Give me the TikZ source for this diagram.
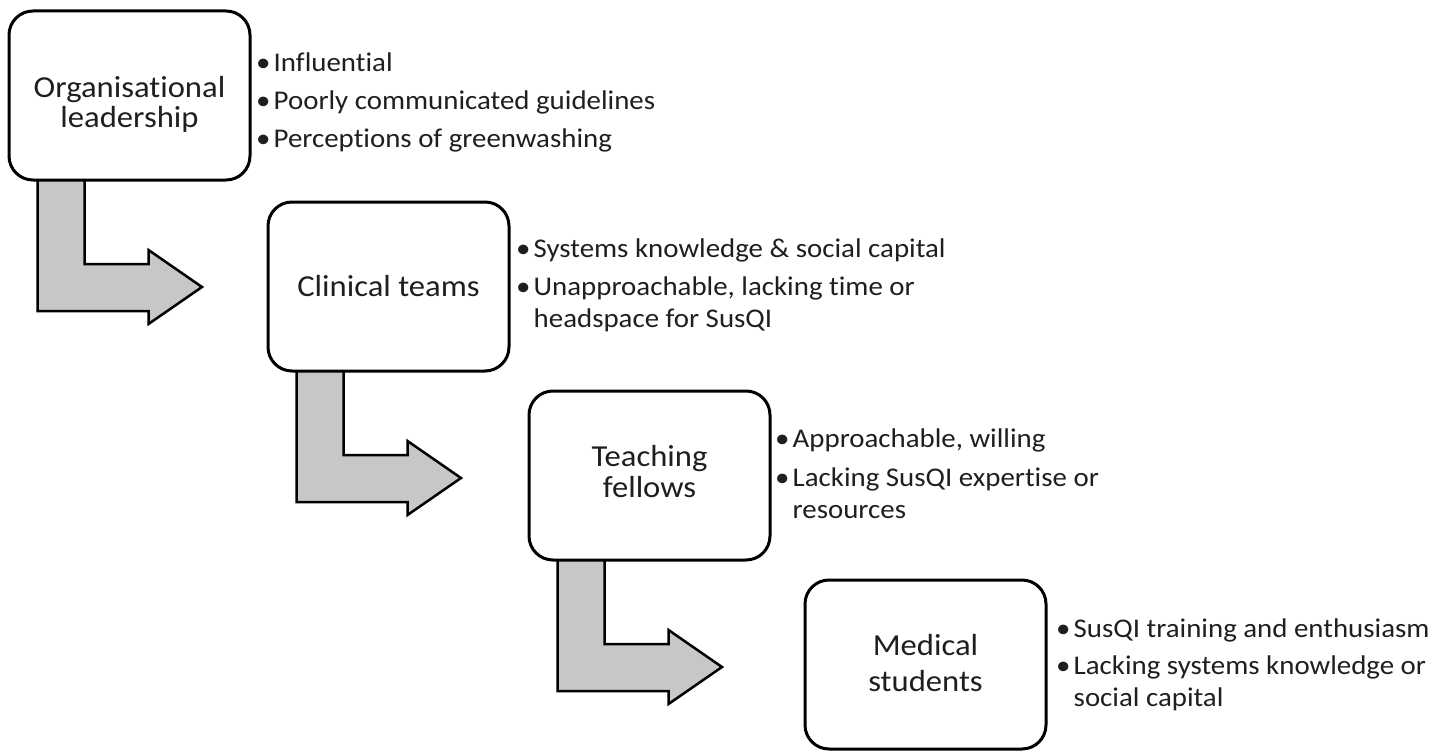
\documentclass[tikz,border=0pt]{standalone}
\usepackage{fontspec}
\setmainfont{Carlito}[Ligatures=NoCommon]
\newfontfamily\wfont{Carlito}[FakeStretch=1.07,Ligatures=NoCommon]
\usetikzlibrary{calc}
\tikzset{
  box/.style={draw=black, line width=3pt, rounded corners=24pt, fill=white,
    minimum width=241pt, minimum height=169pt, inner sep=0pt, outer sep=0pt, anchor=north west},
  lbl/.style={font=\wfont\fontsize{30.5}{31}\selectfont, text=black!88,
    inner sep=0pt, anchor=base},
  blt/.style={font=\wfont\fontsize{27}{32}\selectfont, anchor=base west, inner sep=0pt, text=black!88},
  bent/.style={draw=black, line width=2.5pt, fill=black!22, line join=miter},
}
\newcommand\bentarrow[1]{%
  \draw[bent] ($(#1.south west)+(28.5,-4)$) -- ($(#1.south west)+(28.5,131)$)
    -- ($(#1.south west)+(139.5,131)$) -- ($(#1.south west)+(139.5,144)$)
    -- ($(#1.south west)+(193,107)$) -- ($(#1.south west)+(139.5,70)$)
    -- ($(#1.south west)+(139.5,84)$) -- ($(#1.south west)+(75.5,84)$)
    -- ($(#1.south west)+(75.5,-4)$) -- cycle;}
\newcommand\bl{\makebox[9pt][c]{\textbullet}}
\newcommand\twolines[3][0pt]{\begin{tabular}[t]{@{}c@{}}#2\\[#1]#3\end{tabular}}
\begin{document}
\begin{tikzpicture}[x=1pt,y=-1pt]
\useasboundingbox (0,0) rectangle (1452,752);
\fill[white] (0,0) rectangle (1452,752);
% box geometry (for arrow anchors)
\path (9,11) node[box, draw=none, fill=none] (b1) {};
\path (268,202) node[box, draw=none, fill=none] (b2) {};
\path (529,391) node[box, draw=none, fill=none] (b3) {};
\path (805,580) node[box, draw=none, fill=none] (b4) {};
% bent arrows
\bentarrow{b1}
\bentarrow{b2}
\bentarrow{b3}
% visible boxes
\path (9,11) node[box] (B1) {};
\path (268,202) node[box] (B2) {};
\path (529,391) node[box] (B3) {};
\path (805,580) node[box] (B4) {};
% labels
\node[lbl] (l1) at ($(B1.center)+(0,1.5)$) {\twolines{Organisational}{leadership}};
\node[lbl] (l2) at ($(B2.center)+(0,10)$) {Clinical teams};
\node[lbl] (l3) at ($(B3.center)+(0,-9.5)$) {\twolines{Teaching}{fellows}};
\node[lbl] (l4) at ($(B4.center)+(0,-9)$) {\twolines[5pt]{Medical}{students}};
% bullet texts
\node[blt] (t1) at (258.5,72) {\begin{tabular}[t]{@{}l@{\hspace{6pt}}l@{}}
\bl & Influential\\[6pt]
\bl & Poorly communicated guidelines\\[6pt]
\bl & Perceptions of greenwashing\end{tabular}};
\node[blt] (t2) at (518.5,257) {\begin{tabular}[t]{@{}l@{\hspace{6pt}}l@{}}
\bl & Systems knowledge \& social capital\\[6pt]
\bl & Unapproachable, lacking time or\\
 & headspace for SusQI\end{tabular}};
\node[blt] (t3) at (777.5,447) {\begin{tabular}[t]{@{}l@{\hspace{6pt}}l@{}}
\bl & Approachable, willing\\[7pt]
\bl & Lacking SusQI expertise or\\
 & resources\end{tabular}};
\node[blt] (t4) at (1058.5,637) {\begin{tabular}[t]{@{}l@{\hspace{6pt}}l@{}}
\bl & SusQI training and enthusiasm\\[5pt]
\bl & Lacking systems knowledge or\\
 & social capital\end{tabular}};
\end{tikzpicture}
\end{document}
